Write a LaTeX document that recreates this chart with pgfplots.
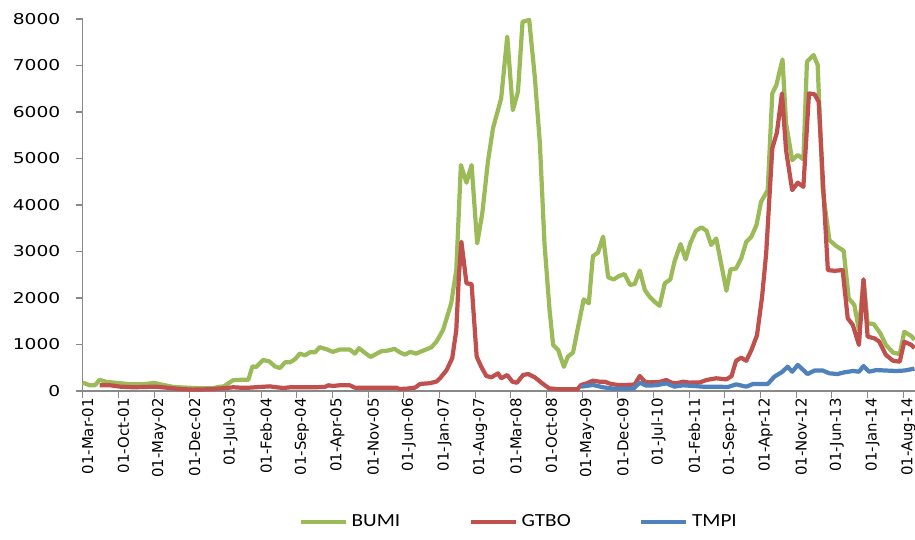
\documentclass[border=0pt]{standalone}
\usepackage{pgfplots}
\pgfplotsset{compat=1.18}
\usepackage{fontspec}
\setmainfont{DejaVu Sans}
\newfontfamily\ytickfont{DejaVu Sans}[FakeStretch=1.25]
\newfontfamily\xtickfont{DejaVu Sans}
\newfontfamily\legfont{Carlito}[FakeStretch=1.15]

\definecolor{bumi}{HTML}{9BBB59}
\definecolor{gtbo}{HTML}{C0504D}
\definecolor{tmpi}{HTML}{4F81BD}
\definecolor{axgray}{HTML}{898989}

\begin{document}
\begin{tikzpicture}
% 1 px of the reference = 0.02cm
\path[use as bounding box] (-1.654cm,-2.98cm) rectangle (16.646cm,7.82cm);
\begin{axis}[
    scale only axis,
    width=16.646cm, height=7.44cm,
    anchor=south west, at={(0,0)},
    xmin=0, xmax=163.3,
    ymin=0, ymax=8000,
    axis lines*=left,
    axis line style={axgray, line width=0.6pt},
    x axis line style={-}, y axis line style={-},
    tick style={axgray, line width=0.6pt},
    tick align=outside,
    major tick length=0.14cm,
    ytick={0,1000,...,8000},
    scaled y ticks=false,
    /pgf/number format/1000 sep={},
    /pgf/number format/assume math mode=true,
    yticklabel style={font=\ytickfont\fontsize{8.5}{10}\selectfont, anchor=east, inner sep=0pt, xshift=-0.3cm},
    xtick={0,7,...,161},
    xticklabels={01-Mar-01,01-Oct-01,01-May-02,01-Dec-02,01-Jul-03,01-Feb-04,01-Sep-04,01-Apr-05,01-Nov-05,01-Jun-06,01-Jan-07,01-Aug-07,01-Mar-08,01-Oct-08,01-May-09,01-Dec-09,01-Jul-10,01-Feb-11,01-Sep-11,01-Apr-12,01-Nov-12,01-Jun-13,01-Jan-14,01-Aug-14},
    xticklabel style={font=\xtickfont\fontsize{8.5}{10}\selectfont, xshift=0.1cm, rotate=90, anchor=east, inner sep=0pt},
    clip=false,
    every axis plot/.append style={line width=2.4pt, line join=round, mark=none},
    legend style={at={(0.525,-0.352)}, anchor=center, draw=none, fill=none,
        font=\legfont\fontsize{10.5}{12}\selectfont,
        /tikz/every even column/.append style={column sep=1.3cm}},
    legend columns=3,
    legend image code/.code={\draw[#1] (0cm,0cm) -- (0.9cm,0cm);},
]
\addplot[bumi] coordinates {
(0,180) (1.4,123) (2.4,123) (3.3,240) (4.7,196) (6,181) (7.3,167) (9.3,145) (11.9,145) (14,174)
(15.8,130) (17.8,87) (20.4,72) (23,58) (25.6,58) (26.6,87) (27.7,100) (29.5,232) (30.8,240) (32.5,240)
(33.3,530) (34,515) (35.4,667) (36.6,638) (37.7,530) (38.7,493) (39.7,616) (40.7,616) (41.7,688) (42.6,804)
(43.6,768) (44.6,833) (45.6,833) (46.5,942) (47.8,899) (49.1,841) (50.4,891) (52.4,891) (53.4,804) (54.2,920)
(55.4,819) (56.5,732) (57.7,804) (58.6,855) (59.9,870) (61.2,906) (62.2,833) (63.2,783) (64.3,841) (65.4,804)
(66.5,855) (68.4,939) (69.4,1061) (70.7,1311) (72.3,1885) (73.3,2600) (74.2,4860) (75.3,4480) (76.3,4860) (77.4,3175)
(78.4,3820) (79.5,4930) (80.5,5650) (82.1,6290) (83.3,7620) (84.4,6040) (85.4,6435) (86.3,7940) (87.6,7980) (88.7,6760)
(89.7,5325) (90.6,3175) (91.6,1740) (92.3,990) (93.3,880) (94.4,520) (95.2,740) (96.2,825) (97.2,1380) (98.3,1970)
(99.3,1885) (100.1,2900) (101.1,2975) (102.1,3320) (103.1,2445) (104.2,2400) (105.2,2470) (106.3,2515) (107.4,2280) (108.3,2300)
(109.3,2590) (110.3,2170) (111.2,2030) (112.2,1920) (113.2,1830) (114.2,2315) (115.3,2400) (116.1,2780) (117.3,3160) (118.3,2830)
(119.2,3175) (120.3,3445) (121.4,3520) (122.4,3445) (123.3,3140) (124.3,3280) (126.3,2155) (127.1,2615) (128.2,2635) (129.2,2850)
(130.2,3210) (131.2,3320) (132.2,3570) (133.1,4070) (134.4,4320) (135.3,6400) (136.1,6580) (137.3,7130) (138,5755) (139.2,4965)
(140.3,5075) (141.4,4980) (142.1,7080) (143.4,7225) (144.2,7010) (145.2,4320) (146.5,3245) (147.8,3120) (149.3,3015) (150.3,1990)
(151.4,1850) (152.3,1310) (153.2,2400) (154,1455) (155.2,1440) (156.5,1240) (157.6,990) (159,825) (160.3,795) (161.2,1275)
(162.6,1180) (163.2,1100)
};
\addlegendentry{BUMI}
\addplot[gtbo] coordinates {
(3.3,123) (5.4,123) (7.3,94) (9.9,80) (12.5,87) (14,94) (16.4,72) (19,43) (21.6,29) (24.3,36)
(26.3,50) (28.2,65) (29.5,80) (30.8,72) (32.8,72) (34.8,87) (36.7,100) (38,80) (39.4,65) (40.7,80)
(45.2,80) (47.5,87) (48.2,123) (49.1,108) (50.4,123) (52.4,123) (53.4,72) (61.5,72) (62.2,43) (63.5,50)
(65.2,72) (66.2,152) (68.1,167) (69.4,203) (70.1,273) (71.4,450) (72.5,703) (73.3,1310) (73.8,2460) (74.3,3210)
(75.3,2315) (76.3,2300) (77.3,740) (78.2,520) (79.2,323) (80.2,295) (81.5,380) (82.1,273) (83.3,344) (84.3,200)
(85.2,178) (86.4,344) (87.4,365) (88.7,295) (90,178) (91.5,58) (93.6,36) (97,36) (97.8,130) (98.9,165)
(100.1,222) (101.4,200) (102.4,200) (103.7,150) (105,130) (106.7,130) (108.3,140) (109.3,323) (110.3,200) (111.2,185)
(113.2,195) (114.5,237) (115.5,180) (116.5,165) (117.8,200) (119.1,180) (121.1,185) (122.4,237) (124.3,273) (126.3,250)
(127.3,320) (128.2,650) (129.2,716) (130.2,650) (131.2,880) (132.3,1200) (133.3,2030) (134.1,2960) (135.3,5220) (136.2,5555)
(137.2,6400) (138,5180) (139.2,4320) (140.3,4480) (141.4,4390) (142.5,6400) (143.6,6380) (144.4,6220) (145.4,4180) (146.2,2600)
(147.5,2585) (149.1,2600) (150.1,1563) (151.1,1420) (152.3,990) (153.2,2400) (154,1170) (155.4,1130) (156.3,1060) (157.6,775)
(159,650) (160.3,630) (161.2,1060) (162.6,990) (163.2,920)
};
\addlegendentry{GTBO}
\addplot[tmpi] coordinates {
(97.8,93) (100.1,130) (102.1,80) (104.1,50) (106.7,50) (108.1,57) (109.3,180) (110.6,115) (112.5,123) (114.5,165)
(116.1,93) (117.8,123) (119.8,108) (121.7,93) (124.3,93) (126.6,86) (128.2,143) (130.2,93) (131.5,150) (134.4,150)
(135.7,308) (137.3,415) (138.3,523) (139.2,415) (140.3,560) (141.2,470) (142.2,365) (143.6,440) (145.2,440) (146.5,380)
(148.1,365) (149.4,400) (151.1,430) (152.3,415) (153.2,537) (154.3,415) (155.7,450) (157.6,440) (159.6,430) (161.2,440)
(163.2,480)
};
\addlegendentry{TMPI}
\end{axis}
\end{tikzpicture}
\end{document}
